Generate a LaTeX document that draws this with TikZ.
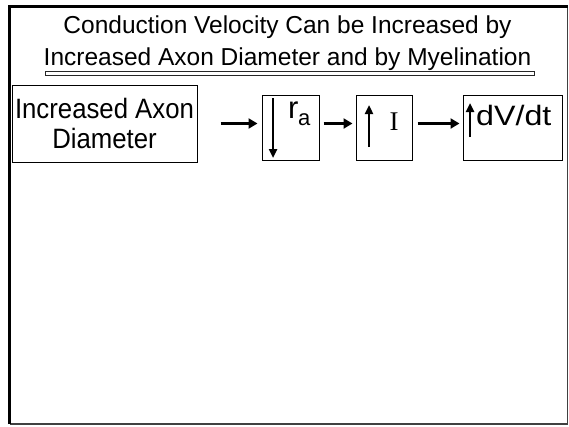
\documentclass[tikz,border=0pt]{standalone}
\usepackage{fontspec}
\setmainfont{Liberation Sans}
\newfontfamily\seriffont{Liberation Serif}
\newfontfamily\narrowsans[FakeStretch=0.92]{Liberation Sans}
\newfontfamily\widesans[FakeStretch=1.15]{Liberation Sans}
\usetikzlibrary{arrows.meta}
\begin{document}
\begin{tikzpicture}[x=1pt,y=-1pt,
  box/.style={draw=black,line width=1pt,inner sep=0pt,rectangle},
  conn/.style={line width=3pt,-{Triangle[length=9pt,width=10pt]}},
  vert/.style={line width=2.5pt,-{Triangle[length=9pt,width=8pt]}},
  ttl/.style={font=\fontsize{24.5}{31}\selectfont,align=center,inner sep=0pt,anchor=base},
  itxt/.style={inner sep=0pt,anchor=base west}]
\useasboundingbox (0,0) rectangle (569,426);
\fill[white] (0,0) rectangle (569,426);
% frame
\draw[line width=1.5pt,black!75] (567.5,6.5) -- (567.5,424) -- (9.5,424);
\draw[line width=3pt,black] (9.5,424) -- (9.5,6.5) -- (567.5,6.5);
% title
\node[ttl] (t1) at (287.5,33.5) {Conduction Velocity Can be Increased by};
\node[ttl] (t2) at (287.5,65) {Increased Axon Diameter and by Myelination};
\draw[line width=1pt,black!85] (45,71) rectangle (534,75);
% boxes
\node[box,minimum width=185pt,minimum height=77pt,font=\narrowsans\fontsize{28}{30}\selectfont,align=center] (b1) at (104.5,123.5) {Increased Axon\\Diameter};
\node[box,minimum width=57pt,minimum height=65pt] (b2) at (290.5,127.5) {};
\node[box,minimum width=56pt,minimum height=65pt] (b3) at (384,127.5) {};
\node[box,minimum width=99pt,minimum height=65pt] (b4) at (512.5,127.5) {};
% connectors
\draw[conn] ([xshift=23pt]b1.east) -- ([xshift=-4pt]b2.west |- b1.east);
\draw[conn] ([xshift=4pt]b2.east |- b1.east) -- ([xshift=-3pt]b3.west |- b1.east);
\draw[conn] ([xshift=5pt]b3.east |- b1.east) -- ([xshift=-3pt]b4.west |- b1.east);
% inner arrows
\coordinate (d2a) at (273,98); \coordinate (d2b) at (273,158);
\draw[vert] (d2a) -- (d2b);
\coordinate (u3a) at (369,147); \coordinate (u3b) at (369,105);
\draw[vert] (u3a) -- (u3b);
\coordinate (u4a) at (470,137); \coordinate (u4b) at (470,103);
\draw[vert] (u4a) -- (u4b);
% inner texts
\node[itxt,font=\fontsize{31}{31}\selectfont] (r) at (288,118) {r};
\node[itxt,font=\fontsize{22}{22}\selectfont] (ra) at (298,125) {a};
\node[inner sep=0pt,anchor=base,font=\seriffont\fontsize{27}{27}\selectfont] (cur) at (394,130) {I};
\node[itxt,font=\widesans\fontsize{28}{28}\selectfont] (dv) at (476,125) {dV/dt};
\end{tikzpicture}
\end{document}
